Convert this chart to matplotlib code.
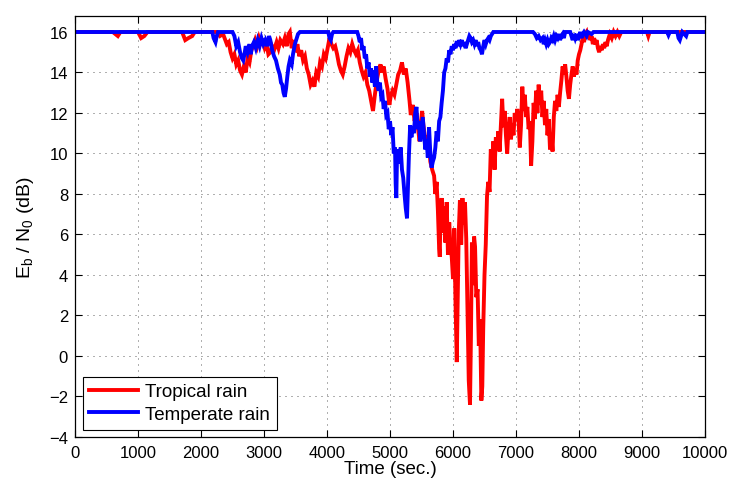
import matplotlib
matplotlib.use("Agg")
import matplotlib.pyplot as plt

plt.rcParams['font.family'] = ['Liberation Sans', 'DejaVu Sans']
plt.rcParams['mathtext.default'] = 'regular'

# ---- data (time in s, Eb/N0 in dB) ----
tropical_t = [0, 600, 680, 720, 1000, 1050, 1100, 1150, 1700, 1750, 1800, 1860, 1900, 2250, 2300, 2350,
              2410, 2440, 2470, 2500, 2530, 2560, 2590, 2620, 2650, 2680, 2710, 2740, 2770, 2800, 2830,
              2860, 2890, 2920, 2950, 2980, 3010, 3040, 3070, 3100, 3130, 3160, 3200, 3230, 3260, 3300,
              3330, 3360, 3390, 3410, 3440, 3470, 3500, 3530, 3560, 3590, 3620, 3650, 3680, 3710, 3740,
              3770, 3800, 3830, 3860, 3890, 3920, 3950, 3980, 4010, 4040, 4070, 4100, 4130, 4160, 4190,
              4220, 4250, 4280, 4310, 4340, 4370, 4400, 4430, 4460, 4490, 4520, 4550, 4580, 4610, 4640,
              4670, 4700, 4730, 4760, 4790, 4820, 4850, 4870, 4900, 4930, 4960, 4990, 5010, 5040, 5070,
              5100, 5130, 5160, 5190, 5220, 5250, 5280, 5310, 5330, 5360, 5390, 5420, 5450, 5470, 5490,
              5510, 5530, 5560, 5590, 5610, 5640, 5670, 5700, 5720, 5740, 5760, 5780, 5790, 5800, 5820,
              5840, 5860, 5880, 5900, 5920, 5940, 5960, 5980, 6000, 6020, 6040, 6060, 6075, 6090, 6110,
              6130, 6150, 6170, 6190, 6210, 6230, 6250, 6270, 6285, 6300, 6320, 6335, 6350, 6370, 6390,
              6410, 6430, 6450, 6465, 6480, 6500, 6520, 6540, 6560, 6580, 6600, 6620, 6640, 6660, 6680,
              6700, 6720, 6740, 6760, 6780, 6800, 6820, 6840, 6860, 6880, 6900, 6920, 6940, 6960, 6980,
              7000, 7020, 7040, 7060, 7080, 7100, 7120, 7140, 7160, 7180, 7200, 7220, 7240, 7260, 7280,
              7300, 7320, 7340, 7360, 7380, 7400, 7420, 7440, 7460, 7480, 7500, 7520, 7540, 7560, 7580,
              7600, 7620, 7640, 7660, 7680, 7700, 7720, 7740, 7760, 7780, 7800, 7820, 7840, 7860, 7880,
              7900, 7920, 7940, 7960, 7980, 8000, 8020, 8040, 8060, 8080, 8100, 8120, 8140, 8160, 8180,
              8200, 8220, 8240, 8260, 8280, 8300, 8320, 8340, 8360, 8380, 8400, 8420, 8440, 8460, 8490,
              8520, 8550, 8580, 8610, 8640, 8670, 9080, 9100, 9120, 10000]
tropical_db = [16, 16, 15.8, 16, 16, 15.7, 15.8, 16, 16, 15.6, 15.7, 15.8, 16, 16, 15.8, 15.9,
               15.4, 15.5, 15.0, 14.7, 14.9, 14.4, 14.6, 14.1, 13.9, 14.3, 14.0, 14.7, 14.5, 15.1, 15.3,
               15.6, 15.3, 15.7, 15.4, 15.5, 15.2, 15.4, 14.9, 15.0, 15.3, 15.1, 15.5, 15.2, 15.6, 15.4,
               15.7, 15.3, 15.9, 16.0, 15.2, 15.6, 15.0, 15.4, 14.8, 15.1, 14.6, 14.8, 14.2, 13.9, 13.4,
               13.6, 13.3, 14.0, 13.8, 14.5, 14.3, 14.9, 14.7, 15.2, 15.7, 15.4, 15.2, 15.3, 14.9, 14.4,
               14.1, 13.9, 14.3, 14.8, 15.2, 15.0, 15.4, 15.1, 14.9, 15.1, 14.5, 14.1, 13.8, 14.0, 13.4,
               13.1, 12.6, 12.1, 12.9, 13.6, 14.1, 14.4, 14.0, 14.3, 13.7, 13.2, 12.4, 12.8, 13.1, 12.9,
               13.4, 13.9, 14.1, 14.5, 13.9, 14.2, 13.5, 12.6, 11.9, 12.4, 11.6, 12.0, 11.1, 10.6, 11.5,
               12.1, 11.4, 10.7, 10.2, 10.9, 9.6, 9.2, 8.9, 8.0, 8.6, 7.2, 5.3, 4.9, 6.8, 7.8,
               6.1, 7.4, 5.6, 7.6, 5.0, 6.6, 5.4, 4.9, 3.8, 6.3, 2.6, -0.3, 2.8, 6.0, 7.7,
               5.5, 7.8, 6.5, 7.6, 5.8, 2.4, -1.2, -2.4, 1.0, 5.6, 3.5, 5.9, 5.4, 2.9, 3.3,
               0.5, 1.8, -2.2, -1.5, 1.4, 4.0, 5.5, 7.9, 8.6, 8.1, 10.2, 9.5, 10.6, 9.2, 10.8,
               10.3, 11.1, 10.1, 11.4, 12.7, 11.3, 12.1, 10.9, 10.0, 11.2, 11.8, 10.7, 11.5, 10.9, 12.0,
               11.6, 12.2, 11.7, 10.3, 11.4, 13.3, 12.1, 12.9, 11.8, 12.3, 11.2, 11.6, 9.4, 10.6, 12.5,
               11.7, 13.1, 12.0, 13.4, 12.4, 13.1, 11.8, 12.6, 11.4, 12.2, 10.9, 11.7, 10.2, 11.0, 10.1,
               11.8, 12.6, 12.1, 12.9, 12.3, 13.0, 13.6, 14.3, 13.9, 14.4, 13.8, 13.1, 12.7, 13.4, 13.9,
               14.3, 13.8, 14.2, 13.9, 14.6, 14.9, 15.1, 15.4, 15.75, 15.5, 15.9, 16.0, 15.7, 15.9, 15.6,
               15.8, 15.4, 15.7, 15.4, 15.6, 15.2, 15.0, 15.3, 15.1, 15.4, 15.2, 15.5, 15.3, 15.6, 15.9,
               15.7, 16.0, 15.8, 16.0, 15.8, 16.0, 16, 15.8, 16, 16]

temperate_t = [0, 2180, 2200, 2230, 2250, 2270, 2500, 2530, 2560, 2590, 2620, 2650, 2670, 2690, 2710,
               2740, 2770, 2790, 2810, 2840, 2870, 2900, 2930, 2960, 2990, 3020, 3050, 3080, 3100, 3130,
               3160, 3190, 3220, 3250, 3270, 3290, 3310, 3330, 3350, 3370, 3390, 3410, 3440, 3460, 3490,
               3510, 3540, 3570, 4020, 4040, 4060, 4080, 4100, 4480, 4500, 4520, 4540, 4560, 4580, 4600,
               4620, 4640, 4660, 4680, 4700, 4720, 4740, 4760, 4780, 4800, 4820, 4840, 4860, 4880, 4900,
               4920, 4940, 4960, 4980, 5000, 5020, 5040, 5060, 5080, 5090, 5100, 5110, 5130, 5150, 5170,
               5190, 5210, 5230, 5250, 5270, 5285, 5300, 5320, 5340, 5360, 5380, 5400, 5420, 5440, 5460,
               5480, 5500, 5520, 5540, 5560, 5580, 5600, 5620, 5640, 5660, 5680, 5700, 5720, 5740, 5760,
               5780, 5800, 5820, 5840, 5860, 5880, 5900, 5920, 5940, 5960, 5980, 6000, 6020, 6040, 6060,
               6080, 6100, 6120, 6140, 6160, 6180, 6200, 6220, 6240, 6260, 6280, 6300, 6320, 6340, 6360,
               6380, 6400, 6420, 6440, 6460, 6480, 6500, 6520, 6540, 6560, 6580, 6600, 6620, 6640, 7270,
               7300, 7330, 7360, 7390, 7420, 7440, 7460, 7480, 7500, 7520, 7540, 7560, 7580, 7600, 7620,
               7640, 7660, 7680, 7700, 7720, 7740, 7760, 7780, 7860, 7880, 7900, 7920, 7940, 7960, 7980,
               8000, 8020, 8040, 8060, 8080, 8120, 8140, 8200, 8230, 9400, 9420, 9440, 9560, 9580, 9600,
               9620, 9640, 9700, 9720, 10000]
temperate_db = [16, 16, 15.7, 15.5, 15.8, 16, 16, 15.8, 15.3, 15.5, 15.0, 14.7, 14.6, 14.9, 15.3,
                15.0, 15.4, 14.9, 15.3, 15.5, 15.2, 15.6, 15.3, 15.7, 15.4, 15.6, 15.3, 15.8, 15.6, 15.1,
                14.8, 14.6, 14.2, 13.9, 13.5, 13.4, 13.0, 12.8, 13.2, 13.8, 14.3, 14.6, 14.4, 14.9, 15.4,
                15.6, 15.9, 16, 16, 15.7, 15.6, 15.9, 16, 16, 15.8, 15.5, 15.7, 15.1, 15.3, 14.7,
                14.9, 14.2, 14.5, 13.8, 14.2, 13.5, 14.1, 13.3, 14.3, 13.4, 13.1, 13.5, 12.8, 12.9, 12.2,
                12.6, 11.9, 12.0, 11.2, 11.6, 10.9, 11.3, 10.0, 10.3, 8.5, 7.8, 9.6, 10.2, 9.5, 10.3,
                9.2, 8.8, 8.0, 7.3, 6.8, 8.4, 9.9, 11.4, 10.8, 11.3, 11.0, 12.0, 12.3, 11.2, 11.6,
                10.6, 11.2, 11.8, 11.0, 10.2, 10.7, 9.8, 11.3, 10.0, 9.3, 9.6, 9.8, 10.3, 11.1, 10.6,
                11.6, 11.8, 12.5, 13.1, 14.0, 14.2, 14.7, 14.5, 15.1, 14.9, 15.3, 15.1, 15.4, 15.2, 15.55,
                15.3, 15.6, 15.4, 15.6, 15.3, 15.5, 15.2, 15.4, 15.6, 15.8, 15.7, 15.5, 15.6, 15.4, 15.6,
                15.3, 15.5, 15.2, 15.1, 14.9, 15.3, 15.6, 15.4, 15.6, 15.7, 15.6, 15.8, 15.9, 16, 16,
                15.9, 15.7, 15.8, 15.6, 15.7, 15.4, 15.6, 15.4, 15.6, 15.4, 15.5, 15.7, 15.6, 15.8, 15.6,
                15.8, 15.7, 15.9, 15.6, 15.8, 15.9, 15.7, 16, 16, 15.8, 15.6, 15.9, 15.7, 15.9, 15.6,
                15.8, 16.0, 15.7, 15.9, 16, 15.8, 16, 15.9, 16, 16, 15.85, 16, 16, 15.7, 15.6,
                15.8, 16, 15.8, 16, 16]

series_names = ['Tropical rain', 'Temperate rain']
x_ticks = list(range(0, 10001, 1000))
y_ticks = list(range(-4, 17, 2))

# ---- figure ----
fig = plt.figure(figsize=(7.33, 4.85), dpi=100)
ax = fig.add_axes([75 / 733, 47 / 485, 630 / 733, 421 / 485])

ax.plot(tropical_t, tropical_db, color='#ff0000', lw=2.8, label=series_names[0], solid_joinstyle='miter')
ax.plot(temperate_t, temperate_db, color='#0000ff', lw=2.8, label=series_names[1], solid_joinstyle='miter')

ax.set_xlim(0, 10000)
ax.set_ylim(-4, 16.79)
ax.set_xticks(x_ticks)
ax.set_yticks(y_ticks)
ax.tick_params(direction='in', top=True, right=True, length=5, width=0.8, labelsize=12, colors='black')
ax.tick_params(axis='x', pad=6)
ax.tick_params(axis='y', pad=5)
for s in ax.spines.values():
    s.set_linewidth(0.9)
ax.grid(True, color='#444444', linestyle=(0, (1.2, 6)), linewidth=0.6)
ax.set_axisbelow(True)

ax.set_xlabel('Time (sec.)', fontsize=13.5, labelpad=0)
ax.set_ylabel('E$_b$ / N$_0$ (dB)', fontsize=14, labelpad=9)

leg = ax.legend(loc='lower left', fontsize=13.5, frameon=True, fancybox=False, edgecolor='black',
                framealpha=1, borderpad=0.35, handlelength=2.6, labelspacing=0.3, borderaxespad=0.4,
                handletextpad=0.4)
leg.get_frame().set_linewidth(0.8)

fig.savefig('out.png', dpi=100)
